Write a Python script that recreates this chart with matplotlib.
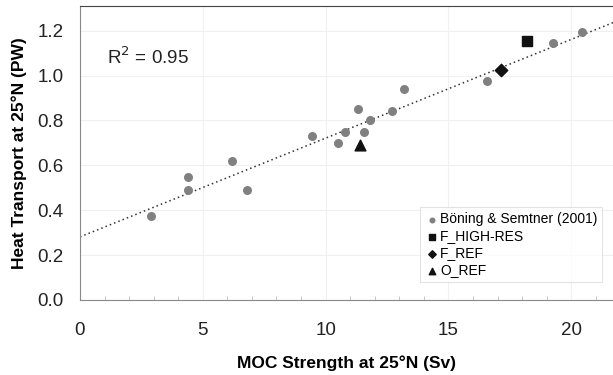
import numpy as np
import matplotlib.pyplot as plt

plt.rcParams['font.family'] = ['Liberation Sans', 'DejaVu Sans']

# Böning & Semtner (2001) model results
bs_moc = [2.9, 4.4, 4.4, 6.2, 6.8, 9.45, 10.5, 10.8, 11.3, 11.55, 11.8, 12.7, 13.2, 16.55, 19.25, 20.45]
bs_heat = [0.375, 0.55, 0.49, 0.62, 0.49, 0.73, 0.70, 0.75, 0.853, 0.75, 0.80, 0.843, 0.94, 0.975, 1.145, 1.195]

# experiments
hires_moc, hires_heat = [18.2], [1.155]
fref_moc, fref_heat = [17.15], [1.027]
oref_moc, oref_heat = [11.4], [0.69]

slope, intercept = np.polyfit(bs_moc, bs_heat, 1)

fig = plt.figure(figsize=(6.13, 3.75), dpi=100)
ax = fig.add_axes([0.1305, 0.2, 0.8695, 0.784])

xs = np.array([0, 22])
ax.plot(xs, slope * xs + intercept - 0.008, ls=(0, (1, 2)), color='#333333', lw=1.1, zorder=2)

ax.scatter(bs_moc, bs_heat, s=30, color='#808080', zorder=3, label='Böning & Semtner (2001)')
ax.scatter(hires_moc, hires_heat, s=60, marker='s', color='#111111', zorder=4, label='F_HIGH-RES')
ax.scatter(fref_moc, fref_heat, s=40, marker='D', color='#111111', zorder=4, label='F_REF')
ax.scatter(oref_moc, oref_heat, s=60, marker='^', color='#111111', zorder=4, label='O_REF')

ax.set_xlim(0, 21.7)
ax.set_ylim(0, 1.31)
ax.set_xticks([0, 5, 10, 15, 20])
ax.set_xticks(range(1, 22), minor=True)
ax.set_yticks([0.0, 0.2, 0.4, 0.6, 0.8, 1.0, 1.2])
ax.set_yticklabels(['0.0', '0.2', '0.4', '0.6', '0.8', '1.0', '1.2'])
ax.tick_params(axis='both', labelsize=13.5, colors='#222222', length=0)
ax.tick_params(axis='y', pad=12)
ax.tick_params(axis='x', which='minor', direction='in', length=3, color='#bbbbbb')
ax.tick_params(axis='x', pad=16)

ax.grid(True, color='#f0f0f0', lw=0.8)
ax.set_axisbelow(True)

for side in ['left', 'bottom']:
    ax.spines[side].set_color('#888888')
ax.spines['top'].set_color('#444444')
ax.spines['right'].set_visible(False)

ax.set_xlabel('MOC Strength at 25°N (Sv)', fontsize=12.5, fontweight='bold', labelpad=12)
ax.set_ylabel('Heat Transport at 25°N (PW)', fontsize=12.5, fontweight='bold', labelpad=7)

ax.text(1.1, 1.08, 'R$^2$ = 0.95', fontsize=13.5, va='center', color='#222222')

leg = ax.legend(loc='lower right', bbox_to_anchor=(0.98, 0.06), fontsize=10, frameon=True,
                fancybox=False, edgecolor='#dddddd', handletextpad=0.1, labelspacing=0.22,
                borderpad=0.35, markerscale=0.6, handlelength=1.0, borderaxespad=0)
leg.get_frame().set_linewidth(0.8)

fig.savefig('out.png', dpi=100)
